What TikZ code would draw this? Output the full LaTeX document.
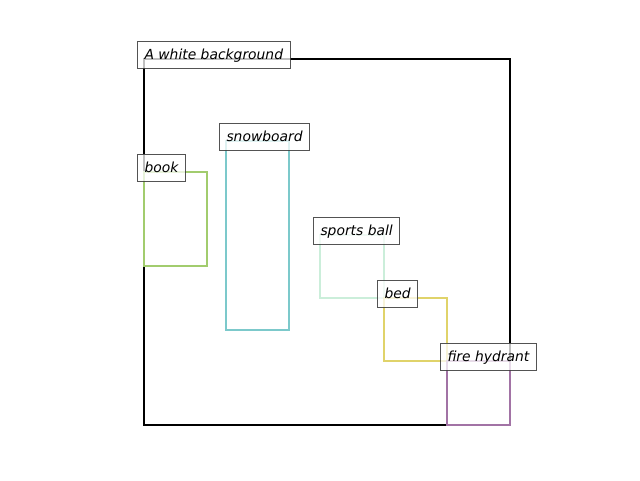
\documentclass[tikz,border=0pt]{standalone}
\usepackage{fontspec}
\setmainfont{DejaVu Sans}
\begin{document}
\begin{tikzpicture}[x=0.75pt,y=-0.75pt,
  lbl/.style={draw=black!75,draw opacity=0.9,fill=white,fill opacity=0.75,text opacity=1,
    line width=0.75pt,anchor=base west,inner xsep=5.25pt,inner ysep=0pt,
    text height=13.5pt,text depth=6.75pt,font=\fontsize{10.4}{12}\selectfont\itshape},
  bbox/.style={line width=1.5pt}]
\useasboundingbox (0,0) rectangle (640,480);
\definecolor{cgreen}{HTML}{A2CC6E}
\definecolor{ccyan}{HTML}{7CC9CB}
\definecolor{clight}{HTML}{CBEEDA}
\definecolor{cyellow}{HTML}{E0D36A}
\definecolor{cpurple}{HTML}{A273A5}
\draw[line width=1.5pt,black] (144,59) rectangle (510,425);
\draw[bbox,cgreen] (144,172) rectangle (207,266);
\draw[bbox,ccyan] (226,141) rectangle (289,330);
\draw[bbox,clight] (320,235) rectangle (384,298);
\draw[bbox,cyellow] (384,298) rectangle (447,361);
\draw[bbox,cpurple] (447,361) rectangle (510,425);
\node[lbl] (bg) at (137,59) {A white background};
\node[lbl] (book) at (137,172) {book};
\node[lbl] (snow) at (219,141) {snowboard};
\node[lbl] (ball) at (313,235) {sports ball};
\node[lbl] (bed) at (377,298) {bed};
\node[lbl] (hyd) at (440,361) {fire hydrant};
\end{tikzpicture}
\end{document}
